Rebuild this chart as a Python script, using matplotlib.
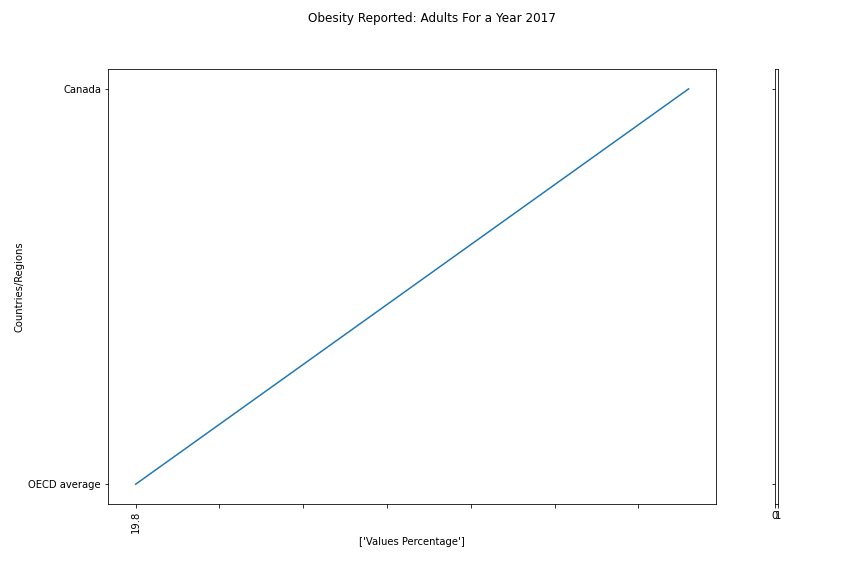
import matplotlib
matplotlib.use('Agg')
import matplotlib.pyplot as plt
import numpy as np

# values
regions = ['OECD average', 'Canada']
values = [19.8, 26.4]
tick_labels = ['19.8']

fig = plt.figure(figsize=(12, 8), dpi=72)
ax = fig.add_axes([0.125, 0.125, 0.704, 0.755])
ax.plot(values, regions)

ticks = np.arange(values[0], values[-1], 1.0)
ax.set_xticks(ticks)
ax.set_xticklabels(tick_labels + [''] * (len(ticks) - 1), rotation=90)
ax.set_xlabel("['Values Percentage']")
ax.set_ylabel('Countries/Regions')

# the thin side axes
ax2 = fig.add_axes([0.8968, 0.125, 0.0035, 0.755], sharey=ax)
ax2.set_xlim(0, 1)
ax2.set_xticks([0, 1])
ax2.tick_params(axis='y', labelleft=False)

fig.suptitle('Obesity Reported: Adults For a Year 2017')
fig.savefig('out.png', dpi=72)
